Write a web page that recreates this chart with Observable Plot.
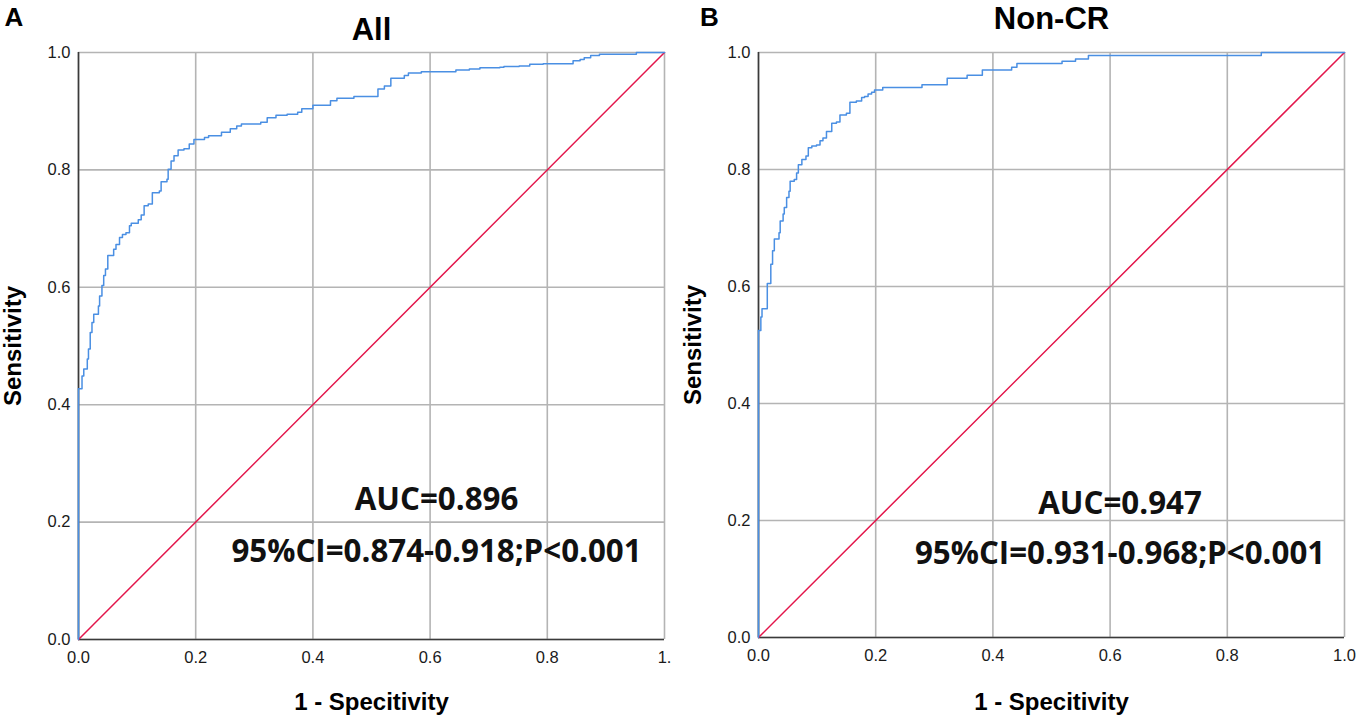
<!DOCTYPE html>
<html>
<head>
<meta charset="utf-8">
<script src="https://cdn.jsdelivr.net/npm/d3@7"></script>
<script src="https://cdn.jsdelivr.net/npm/@observablehq/plot@0.6"></script>
<style>
  html, body { margin: 0; padding: 0; background: #fff; }
  #wrap { position: relative; width: 1358px; height: 719px; overflow: hidden; background: #fff; }
  .panel { position: absolute; top: 0; }
</style>
</head>
<body>
<div id="wrap"></div>
<script>
// ---------- data ----------
const panelLetters = ["A", "B"];
const panelTitles = ["All", "Non-CR"];
const xLabel = "1 - Specitivity";
const yLabel = "Sensitivity";
const tickValues = [0, 0.2, 0.4, 0.6, 0.8, 1.0];
const xTickLabelsA = ["0.0", "0.2", "0.4", "0.6", "0.8", "1."];
const xTickLabelsB = ["0.0", "0.2", "0.4", "0.6", "0.8", "1.0"];
const yTickLabels = ["0.0", "0.2", "0.4", "0.6", "0.8", "1.0"];

// Panel A ROC (1 - specificity, sensitivity)
const fprA = [0, 0, 0.006, 0.009, 0.015, 0.017, 0.020, 0.023, 0.026, 0.034, 0.036, 0.040, 0.043, 0.046, 0.050,
  0.060, 0.064, 0.070, 0.075, 0.081, 0.087, 0.090, 0.102, 0.107, 0.112, 0.119, 0.126, 0.138, 0.141, 0.151,
  0.153, 0.158, 0.163, 0.170, 0.180, 0.189, 0.197, 0.215, 0.222, 0.244, 0.259, 0.270, 0.278, 0.311, 0.322,
  0.337, 0.356, 0.374, 0.381, 0.400, 0.430, 0.441, 0.470, 0.511, 0.522, 0.533, 0.556, 0.563, 0.585, 0.644,
  0.667, 0.685, 0.719, 0.726, 0.752, 0.770, 0.793, 0.844, 0.856, 0.863, 0.874, 0.889, 0.952, 1.0];
const tprA = [0, 0.427, 0.449, 0.461, 0.478, 0.495, 0.523, 0.540, 0.554, 0.568, 0.585, 0.603, 0.620, 0.631, 0.654,
  0.665, 0.673, 0.685, 0.690, 0.693, 0.705, 0.709, 0.715, 0.723, 0.739, 0.742, 0.761, 0.764, 0.780, 0.784,
  0.801, 0.815, 0.824, 0.834, 0.836, 0.844, 0.852, 0.855, 0.858, 0.864, 0.870, 0.875, 0.878, 0.881, 0.889,
  0.893, 0.895, 0.898, 0.904, 0.910, 0.918, 0.922, 0.925, 0.938, 0.943, 0.956, 0.961, 0.965, 0.967, 0.970,
  0.972, 0.974, 0.975, 0.976, 0.977, 0.980, 0.981, 0.986, 0.988, 0.991, 0.995, 0.997, 1.0, 1.0];

// Panel B ROC
const fprB = [0, 0, 0.004, 0.006, 0.015, 0.021, 0.024, 0.027, 0.035, 0.037, 0.042, 0.044, 0.048, 0.052, 0.054,
  0.061, 0.065, 0.068, 0.074, 0.081, 0.085, 0.091, 0.099, 0.105, 0.110, 0.116, 0.125, 0.133, 0.139, 0.150,
  0.156, 0.167, 0.176, 0.181, 0.187, 0.193, 0.198, 0.212, 0.279, 0.322, 0.356, 0.382, 0.432, 0.441, 0.518,
  0.541, 0.563, 0.858, 1.0];
const tprB = [0, 0.525, 0.548, 0.562, 0.605, 0.638, 0.661, 0.681, 0.692, 0.712, 0.724, 0.735, 0.752, 0.763, 0.780,
  0.783, 0.794, 0.808, 0.817, 0.823, 0.837, 0.840, 0.842, 0.849, 0.854, 0.865, 0.879, 0.881, 0.893, 0.896,
  0.915, 0.917, 0.923, 0.925, 0.929, 0.932, 0.936, 0.940, 0.945, 0.956, 0.961, 0.970, 0.975, 0.981, 0.985,
  0.989, 0.995, 1.0, 1.0];

// reference (chance) diagonal
const refLine = [0, 1];

const aucTexts = ["AUC=0.896", "AUC=0.947"];
const ciTexts = ["95%CI=0.874-0.918;P<0.001", "95%CI=0.931-0.968;P<0.001"];

// ---------- drawing ----------
const BLUE = "#4a8fe3";
const RED = "#e3164b";
const GRID = "#b4b4b4";
const AXIS = "#3a3a3a";
const BOLD_SANS = "'Liberation Sans', Arial, Helvetica, sans-serif";
const ANNOT_FONT = "'Open Sans', 'Noto Sans', sans-serif";

function makePanel(cfg) {
  const roc = cfg.fpr.map((x, k) => ({x, y: cfg.tpr[k]}));
  const diag = refLine.map(v => ({x: v, y: v}));
  return Plot.plot({
    width: 679,
    height: 719,
    marginLeft: cfg.ml, marginRight: cfg.mr, marginTop: cfg.mt, marginBottom: cfg.mb,
    x: {domain: [0, 1]},
    y: {domain: [0, 1]},
    style: {
      fontFamily: "'Liberation Sans', Arial, Helvetica, sans-serif",
      fontSize: "16.5px",
      color: "#1a1a1a",
      background: "transparent",
      overflow: "visible"
    },
    marks: [
      Plot.gridX(tickValues, {stroke: GRID, strokeOpacity: 1, strokeWidth: 1.6}),
      Plot.gridY(tickValues, {stroke: GRID, strokeOpacity: 1, strokeWidth: 1.6}),
      Plot.axisX(tickValues, {
        tickSize: 0, tickPadding: cfg.xPad, label: null,
        tickFormat: d => cfg.xTicks[tickValues.indexOf(d)]
      }),
      Plot.axisY(tickValues, {
        tickSize: 0, tickPadding: 8, label: null,
        tickFormat: d => yTickLabels[tickValues.indexOf(d)]
      }),
      Plot.ruleX([0], {stroke: AXIS, strokeWidth: 1.6}),
      Plot.ruleY([0], {stroke: AXIS, strokeWidth: 1.6}),
      Plot.line(diag, {x: "x", y: "y", stroke: RED, strokeWidth: 1.5}),
      Plot.line(roc, {x: "x", y: "y", curve: "step-after", stroke: BLUE, strokeWidth: 1.5}),
      // annotations
      Plot.text([cfg.auc], {
        x: cfg.annX, y: cfg.aucY, text: d => d, textAnchor: "middle", lineAnchor: "bottom",
        fontFamily: ANNOT_FONT, fontWeight: "bold", fontSize: 31.3, fill: "#111"
      }),
      Plot.text([cfg.ci], {
        x: cfg.annX, y: cfg.ciY, text: d => d, textAnchor: "middle", lineAnchor: "bottom",
        fontFamily: ANNOT_FONT, fontWeight: "bold", fontSize: 31.3, fill: "#111"
      }),
      // title
      Plot.text([cfg.title], {
        frameAnchor: "top", dy: cfg.titleDy, text: d => d, textAnchor: "middle", lineAnchor: "bottom",
        fontFamily: BOLD_SANS, fontWeight: "bold", fontSize: 31, fill: "#000"
      }),
      // panel letter
      Plot.text([cfg.letter], {
        frameAnchor: "top-left", dx: cfg.letterDx, dy: -27, text: d => d, textAnchor: "start", lineAnchor: "bottom",
        fontFamily: BOLD_SANS, fontWeight: "bold", fontSize: 26, fill: "#000"
      }),
      // axis labels
      Plot.text([yLabel], {
        frameAnchor: "left", dx: -58, text: d => d, rotate: -90, textAnchor: "middle", lineAnchor: "bottom",
        fontFamily: BOLD_SANS, fontWeight: "bold", fontSize: 24, fill: "#000"
      }),
      Plot.text([xLabel], {
        frameAnchor: "bottom", dy: cfg.xLabDy, text: d => d, textAnchor: "middle", lineAnchor: "bottom",
        fontFamily: BOLD_SANS, fontWeight: "bold", fontSize: 24, fill: "#000"
      })
    ]
  });
}

const wrap = document.getElementById("wrap");

const panelA = makePanel({
  fpr: fprA, tpr: tprA, xTicks: xTickLabelsA,
  ml: 78, mr: 15, mt: 52, mb: 80, xPad: 12,
  auc: aucTexts[0], ci: ciTexts[0], annX: 0.611, aucY: 0.2198, ciY: 0.1317,
  title: panelTitles[0], titleDy: -13, letter: panelLetters[0], letterDx: -74, xLabDy: 70
});
const panelB = makePanel({
  fpr: fprB, tpr: tprB, xTicks: xTickLabelsB,
  ml: 79, mr: 14, mt: 52, mb: 82, xPad: 12,
  auc: aucTexts[1], ci: ciTexts[1], annX: 0.617, aucY: 0.2115, ciY: 0.126,
  title: panelTitles[1], titleDy: -24, letter: panelLetters[1], letterDx: -58.5, xLabDy: 72
});

const dA = document.createElement("div");
dA.className = "panel"; dA.style.left = "0px";
dA.appendChild(panelA);
const dB = document.createElement("div");
dB.className = "panel"; dB.style.left = "679px";
dB.appendChild(panelB);
wrap.appendChild(dA);
wrap.appendChild(dB);
</script>
</body>
</html>
